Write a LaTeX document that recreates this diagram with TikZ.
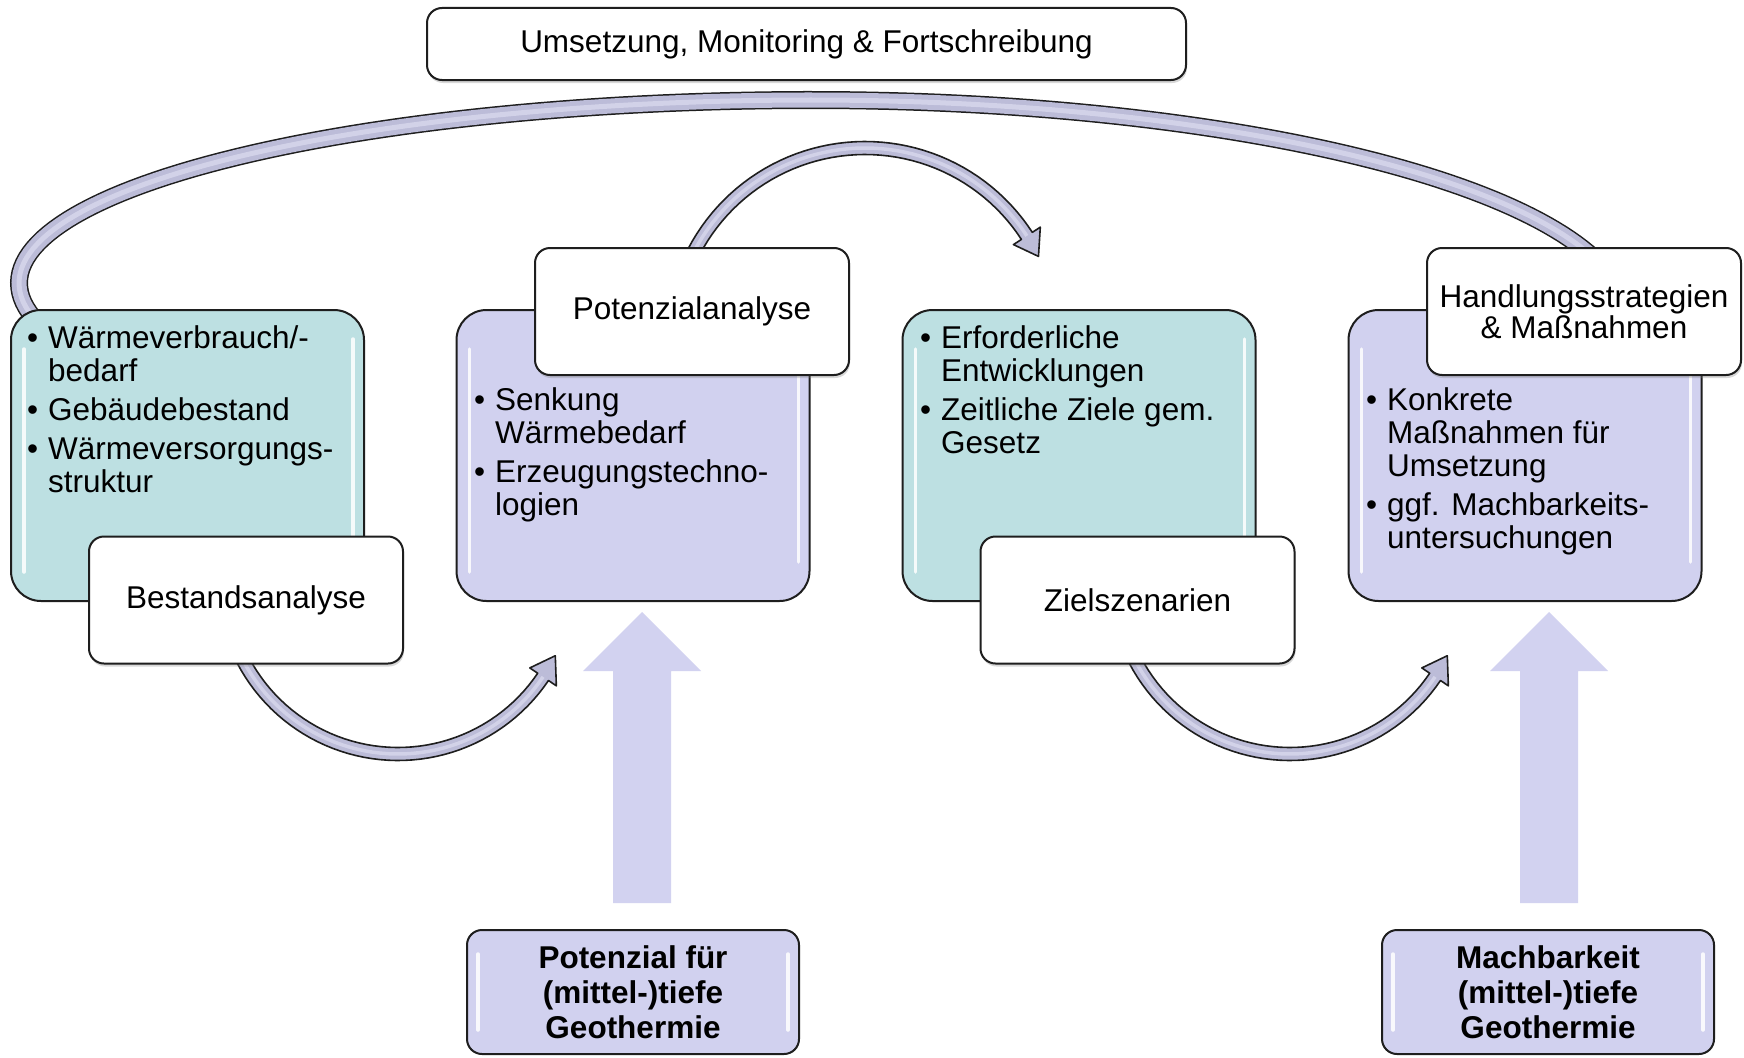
\documentclass[tikz,border=0pt]{standalone}
\usepackage{fontspec}
\setmainfont{Liberation Sans}
\usetikzlibrary{shadows}
\definecolor{teal1}{HTML}{BDE0E2}
\definecolor{lav}{HTML}{D1D1EF}
\definecolor{uparr}{HTML}{D2D2F0}
\definecolor{carr}{HTML}{BCBCD8}
\definecolor{carrlight}{HTML}{D2D2E8}
\definecolor{edge}{HTML}{1E1E1E}
\newcommand\bulx{\strut\makebox[21pt][l]{•}}
\newcommand\indx{\hspace*{21pt}}
\newcommand\curvarrow[8]{%
  \filldraw[carrow] plot[domain=#4:#5,samples=50] ({#1+(#3+#7/2)*cos(\x)},{#2+(#3+#7/2)*sin(\x)})
    -- ({#1+(#3+#8)*cos(#5)},{#2+(#3+#8)*sin(#5)})
    -- ({#1+#3*cos(#6)},{#2+#3*sin(#6)})
    -- ({#1+(#3-#8)*cos(#5)},{#2+(#3-#8)*sin(#5)})
    -- plot[domain=#5:#4,samples=50] ({#1+(#3-#7/2)*cos(\x)},{#2+(#3-#7/2)*sin(\x)}) -- cycle;
  \draw[carrlight,line width=3.5pt] plot[domain=#4:#5,samples=50] ({#1+#3*cos(\x)},{#2+#3*sin(\x)});
}
\newcommand\bigarcpath{plot[domain=197:90,samples=70] ({812+793*cos(\x)},{283-183*sin(\x)}) -- plot[domain=90:14,samples=60] ({812+815*cos(\x)},{320-220*sin(\x)})}
\tikzset{
  bigbox/.style={draw=edge, line width=2pt, rounded corners=30pt, minimum width=353pt, minimum height=291pt, inner sep=0pt},
  tealbox/.style={bigbox, fill=teal1},
  lavbox/.style={bigbox, fill=lav},
  labelbox/.style={draw=edge, line width=2pt, fill=white, rounded corners=15pt, minimum width=314pt, minimum height=127pt, inner sep=0pt, align=center, drop shadow={shadow xshift=1pt, shadow yshift=-3pt, opacity=0.3}},
  itemtext/.style={anchor=north west, inner sep=0pt, align=left},
  geobox/.style={draw=edge, line width=2pt, fill=lav, rounded corners=15pt, minimum width=332pt, minimum height=124pt, inner sep=0pt, align=center, font=\fontsize{31.5}{35}\selectfont\bfseries},
  hl/.style={white, line width=3.5pt, opacity=0.85, line cap=round},
  uparrow/.style={fill=uparr, draw=none},
  carrow/.style={fill=carr, draw=edge, line width=1.6pt, line join=round},
}
\begin{document}
\begin{tikzpicture}[x=1pt, y=-1pt, font=\fontsize{31.5}{33}\selectfont]
\useasboundingbox (0,0) rectangle (1744,1057);
\fill[white] (0,0) rectangle (1744,1057);

% big return arc
\draw[edge, line width=18pt] \bigarcpath;
\draw[carr, line width=15pt] \bigarcpath;
\draw[carrlight, line width=5pt] \bigarcpath;

% curved arrows
\curvarrow{398}{579}{175}{160}{34}{26}{13}{16}
\curvarrow{865}{341}{193}{205}{327}{334}{13}{16}
\curvarrow{1290}{579}{175}{160}{34}{26}{13}{16}

% up arrows
\fill[uparrow] (613,903) -- (613,671) -- (583,671) -- (642,612) -- (701,671) -- (671,671) -- (671,903) -- cycle;
\fill[uparrow] (1520,903) -- (1520,671) -- (1490,671) -- (1549,612) -- (1608,671) -- (1578,671) -- (1578,903) -- cycle;

% main boxes
\node[tealbox] (b1) at (187.5,455.5) {};
\node[lavbox]  (b2) at (633,455.5) {};
\node[tealbox] (b3) at (1079,455.5) {};
\node[lavbox]  (b4) at (1525,455.5) {};
\foreach \b in {b1,b2,b3,b4}{
  \draw[hl] ([xshift=14pt,yshift=-40pt]\b.north west) -- ([xshift=14pt,yshift=30pt]\b.south west);
  \draw[hl] ([xshift=-12pt,yshift=-30pt]\b.north east) -- ([xshift=-12pt,yshift=40pt]\b.south east);
}

% bullet texts
\node[itemtext] (t1) at (27,325) {\bulx Wärmeverbrauch/-\\\indx bedarf\\[6pt]\bulx Gebäudebestand\\[6pt]\bulx Wärmeversorgungs-\\\indx struktur};
\node[itemtext] (t2) at (474,387) {\bulx Senkung\\\indx Wärmebedarf\\[6pt]\bulx Erzeugungstechno-\\\indx logien};
\node[itemtext] (t3) at (920,325) {\bulx Erforderliche\\\indx Entwicklungen\\[6pt]\bulx Zeitliche Ziele gem.\\\indx Gesetz};
\node[itemtext] (t4) at (1366,387) {\bulx Konkrete\\\indx Maßnahmen für\\\indx Umsetzung\\[6pt]\bulx ggf. Machbarkeits-\\\indx untersuchungen};

% label boxes
\node[labelbox] (l1) at (246,600) {Bestandsanalyse};
\node[labelbox] (l2) at (692,311.5) {Potenzialanalyse};
\node[labelbox] (l3) at (1137.5,600) {Zielszenarien};
\node[labelbox, font=\fontsize{31.5}{31}\selectfont] (l4) at (1584,311.5) {Handlungsstrategien\\\& Maßnahmen};
\node[labelbox, minimum width=759pt, minimum height=72pt] (title) at (806.5,44) {Umsetzung, Monitoring \& Fortschreibung};

% geothermal boxes
\node[geobox] (g1) at (633,992) {Potenzial für\\(mittel-)tiefe\\Geothermie};
\node[geobox] (g2) at (1548,992) {Machbarkeit\\(mittel-)tiefe\\Geothermie};
\foreach \b in {g1,g2}{
  \draw[hl] ([xshift=12pt,yshift=-25pt]\b.north west) -- ([xshift=12pt,yshift=25pt]\b.south west);
  \draw[hl] ([xshift=-12pt,yshift=-25pt]\b.north east) -- ([xshift=-12pt,yshift=25pt]\b.south east);
}
\end{tikzpicture}
\end{document}
